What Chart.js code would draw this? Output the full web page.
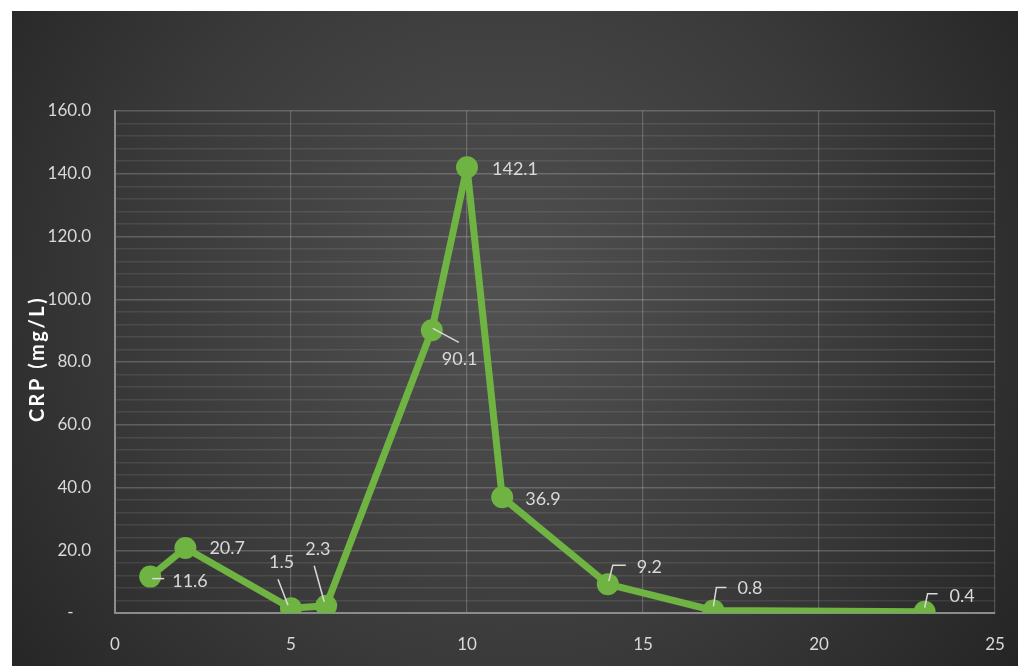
<!DOCTYPE html>
<html>
<head>
<meta charset="utf-8">
<script src="https://cdn.jsdelivr.net/npm/chart.js@4.4.0/dist/chart.umd.min.js"></script>
<style>
  html, body { margin: 0; padding: 0; background: #ffffff; }
  #wrap { position: absolute; left: 12px; top: 11px; width: 1006px; height: 655px; }
</style>
</head>
<body>
<div id="wrap"><canvas id="crpChart"></canvas></div>
<script>
// data
const days = [1, 2, 5, 6, 9, 10, 11, 14, 17, 23];
const crpValues = [11.6, 20.7, 1.5, 2.3, 90.1, 142.1, 36.9, 9.2, 0.8, 0.4];
const xTicks = [0, 5, 10, 15, 20, 25];
const yTicks = [0, 20, 40, 60, 80, 100, 120, 140, 160];
const yTitle = "CRP (mg/L)";

// label placement (dx, dy from the point, leader line points relative to point)
const labelPlacement = [
  { dx: 22, dy: 5, leader: [[2, 2], [14, 2]] },
  { dx: 24, dy: 0, leader: null },
  { dx: -22, dy: -46, leader: [[-13, -29], [-3, -3]] },
  { dx: -21, dy: -57, leader: [[-12, -40], [-2, -4]] },
  { dx: 10, dy: 29, leader: [[1, -2], [27, 12]] },
  { dx: 25, dy: 2, leader: null },
  { dx: 23, dy: 2, leader: null },
  { dx: 29, dy: -17, leader: [[1, -3], [5, -19], [18, -19]] },
  { dx: 24, dy: -22, leader: [[0, -4], [3, -23], [13, -23]] },
  { dx: 25, dy: -16, leader: [[0, -4], [3, -18], [13, -18]] }
];

const bgPlugin = {
  id: "bg",
  beforeDraw(chart) {
    const { ctx, width, height } = chart;
    const g = ctx.createRadialGradient(490, 290, 20, 490, 290, 650);
    g.addColorStop(0, "#505050");
    g.addColorStop(0.55, "#3a3a3a");
    g.addColorStop(1, "#232323");
    ctx.save();
    ctx.fillStyle = g;
    ctx.fillRect(0, 0, width, height);
    ctx.restore();
  }
};

// y title drawn by hand so it can have letter spacing like the original
const titlePlugin = {
  id: "ytitle",
  afterDraw(chart) {
    const { ctx, chartArea } = chart;
    ctx.save();
    ctx.translate(26, (chartArea.top + chartArea.bottom) / 2 - 3);
    ctx.rotate(-Math.PI / 2);
    ctx.font = "bold 20px Lato";
    ctx.letterSpacing = "2.5px";
    ctx.fillStyle = "#ffffff";
    ctx.textAlign = "center";
    ctx.textBaseline = "middle";
    ctx.fillText(yTitle, 0, 0);
    ctx.restore();
  }
};

const labelPlugin = {
  id: "labels",
  afterDatasetsDraw(chart) {
    const { ctx } = chart;
    const meta = chart.getDatasetMeta(0);
    ctx.save();
    ctx.font = "18px Lato";
    ctx.fillStyle = "#d9d9d9";
    ctx.strokeStyle = "#d9d9d9";
    ctx.lineWidth = 1.5;
    ctx.textBaseline = "middle";
    meta.data.forEach((pt, i) => {
      const p = labelPlacement[i];
      if (p.leader) {
        ctx.beginPath();
        p.leader.forEach((q, j) => {
          if (j === 0) ctx.moveTo(pt.x + q[0], pt.y + q[1]);
          else ctx.lineTo(pt.x + q[0], pt.y + q[1]);
        });
        ctx.stroke();
      }
      ctx.fillText(crpValues[i].toFixed(1), pt.x + p.dx, pt.y + p.dy);
    });
    ctx.restore();
  }
};

const ctx = document.getElementById("crpChart").getContext("2d");

new Chart(ctx, {
  type: "line",
  data: {
    datasets: [{
      data: days.map((d, i) => ({ x: d, y: crpValues[i] })),
      borderColor: "#6fb342",
      backgroundColor: "#6fb342",
      borderWidth: 7,
      borderJoinStyle: "round",
      borderCapStyle: "round",
      pointRadius: 11,
      pointHoverRadius: 11,
      pointBorderWidth: 0,
      tension: 0,
      fill: false
    }]
  },
  options: {
    responsive: true,
    maintainAspectRatio: false,
    animation: false,
    layout: { padding: { left: 0, top: 100, right: 23, bottom: 0 } },
    plugins: {
      legend: { display: false },
      tooltip: { enabled: false }
    },
    scales: {
      x: {
        type: "linear",
        min: 0,
        max: 25,
        afterBuildTicks: (s) => { s.ticks = xTicks.map((v) => ({ value: v })); },
        afterFit: (s) => { s.height = 53; s.paddingRight = 0; s.paddingLeft = 0; },
        grid: {
          color: "rgba(255,255,255,0.2)",
          lineWidth: 1.2,
          drawTicks: false
        },
        border: { display: true, color: "#8c8c8c", width: 2 },
        ticks: {
          color: "#d9d9d9",
          font: { family: "Lato", size: 17 },
          padding: 21,
          maxRotation: 0
        }
      },
      y: {
        min: 0,
        max: 160,
        ticks: {
          stepSize: 4,
          autoSkip: false,
          color: "#d9d9d9",
          font: { family: "Lato", size: 17 },
          padding: 24,
          callback: (v) => {
            if (v === 0) return "-    ";
            return yTicks.includes(v) ? v.toFixed(1) : "";
          }
        },
        afterFit: (s) => { s.width = 103; },
        grid: {
          color: (c) => c.tick && c.tick.value % 20 === 0 ? "rgba(255,255,255,0.2)" : "rgba(255,255,255,0.09)",
          lineWidth: 1.5,
          drawTicks: false
        },
        border: { display: true, color: "#8c8c8c", width: 2 }
      }
    }
  },
  plugins: [bgPlugin, labelPlugin, titlePlugin]
});
</script>
</body>
</html>
